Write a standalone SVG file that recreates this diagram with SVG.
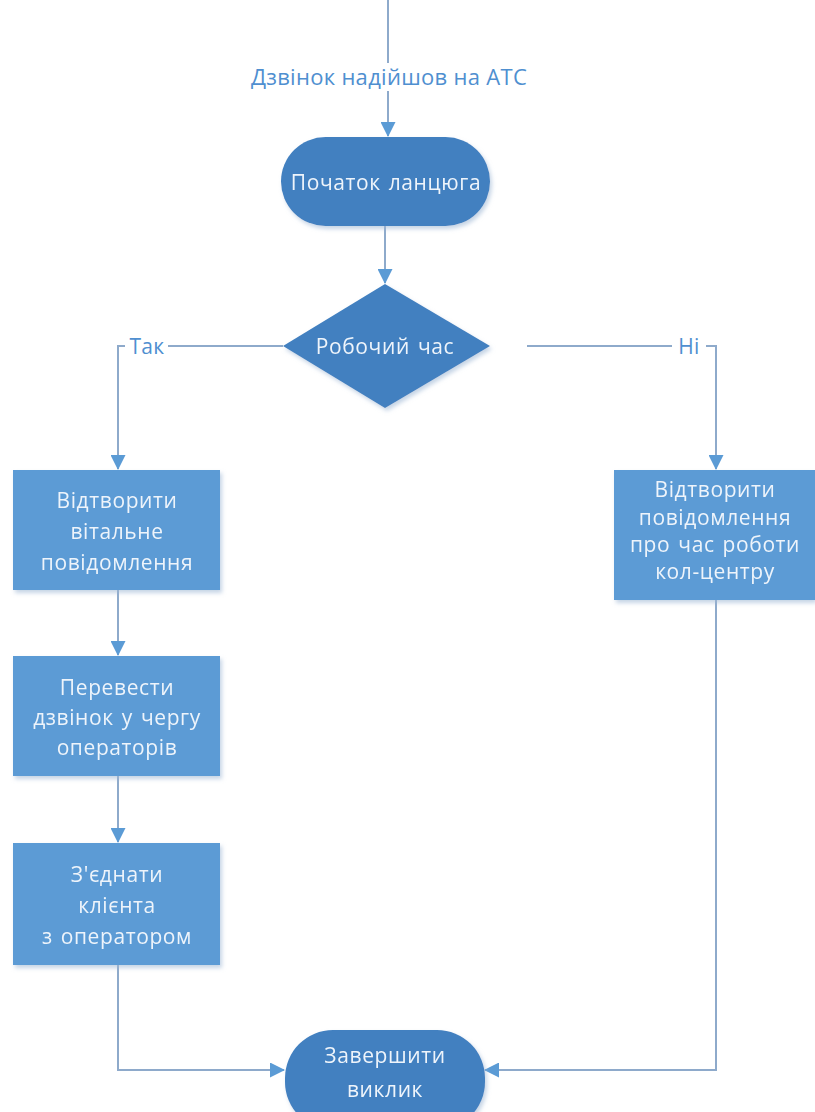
<svg xmlns="http://www.w3.org/2000/svg" width="815" height="1112" viewBox="0 0 815 1112">
  <style>
    .line { fill: none; stroke: #8eaacb; stroke-width: 2; }
    .term { fill: #4280c0; }
    .dec { fill: #4280c0; }
    .proc { fill: #5b9bd5; }
    .ntext { font-family: "Open Sans", "Liberation Sans", sans-serif; font-size: 21px; fill: #eef4fb; text-anchor: middle; letter-spacing: 0.6px; word-spacing: 2px; }
    .ltext { font-family: "Open Sans", "Liberation Sans", sans-serif; font-size: 22px; fill: #4f8fd0; text-anchor: middle; letter-spacing: 0.3px; }
    .small { font-size: 21px; }
  </style>
  <defs>
    <marker id="arrow" markerWidth="15" markerHeight="15" refX="14" refY="7.5" orient="auto" markerUnits="userSpaceOnUse">
      <path d="M0,0 L15,7.5 L0,15 Z" fill="#5b9bd5"/>
    </marker>
    <filter id="shadow" x="-10%" y="-10%" width="125%" height="130%">
      <feDropShadow dx="2" dy="3" stdDeviation="2" flood-color="#9fb8d4" flood-opacity="0.6"/>
    </filter>
  </defs>
  <rect width="815" height="1112" fill="#ffffff"/>

  <!-- connectors and their labels -->
  <g id="connectors">
    <path class="line" d="M388,0 L388,136" marker-end="url(#arrow)"/>
    <path class="line" d="M385,226 L385,283" marker-end="url(#arrow)"/>
    <path class="line" d="M283,346 L168,346"/>
    <path class="line" d="M125,346 L118,346 L118,469" marker-end="url(#arrow)"/>
    <path class="line" d="M527,346 L672,346"/>
    <path class="line" d="M706,346 L716,346 L716,469" marker-end="url(#arrow)"/>
    <path class="line" d="M118,590 L118,655" marker-end="url(#arrow)"/>
    <path class="line" d="M118,776 L118,842" marker-end="url(#arrow)"/>
    <path class="line" d="M118,965 L118,1070 L284,1070" marker-end="url(#arrow)"/>
    <path class="line" d="M716,600 L716,1070 L485,1070" marker-end="url(#arrow)"/>
    <rect x="246" y="63" width="284" height="28" fill="#ffffff"/>
    <text class="ltext" x="389" y="85">Дзвінок надійшов на АТС</text>
    <text class="ltext small" x="147" y="354">Так</text>
    <text class="ltext small" x="689" y="354">Ні</text>
  </g>

  <g id="start" filter="url(#shadow)">
    <rect class="term" x="281" y="137" width="209" height="89" rx="44.5"/>
    <text class="ntext" x="386" y="190">Початок ланцюга</text>
  </g>

  <g id="decision" filter="url(#shadow)">
    <polygon class="dec" points="385,284 490,346 385,408 283,346"/>
    <text class="ntext" x="385" y="354">Робочий час</text>
  </g>

  <g id="greeting" filter="url(#shadow)">
    <rect class="proc" x="13" y="470" width="207" height="120"/>
    <text class="ntext" x="117" y="508">Відтворити</text>
    <text class="ntext" x="117" y="539">вітальне</text>
    <text class="ntext" x="117" y="570">повідомлення</text>
  </g>

  <g id="queue" filter="url(#shadow)">
    <rect class="proc" x="13" y="656" width="207" height="120"/>
    <text class="ntext" x="117" y="695">Перевести</text>
    <text class="ntext" x="117" y="725">дзвінок у чергу</text>
    <text class="ntext" x="117" y="755">операторів</text>
  </g>

  <g id="connect" filter="url(#shadow)">
    <rect class="proc" x="13" y="843" width="207" height="122"/>
    <text class="ntext" x="117" y="882">З'єднати</text>
    <text class="ntext" x="117" y="913">клієнта</text>
    <text class="ntext" x="117" y="944">з оператором</text>
  </g>

  <g id="hours" filter="url(#shadow)">
    <rect class="proc" x="614" y="470" width="201" height="130"/>
    <text class="ntext" x="715" y="497">Відтворити</text>
    <text class="ntext" x="715" y="525">повідомлення</text>
    <text class="ntext" x="715" y="552">про час роботи</text>
    <text class="ntext" x="715" y="579">кол-центру</text>
  </g>

  <g id="end" filter="url(#shadow)">
    <rect class="term" x="285" y="1030" width="200" height="100" rx="48"/>
    <text class="ntext" x="385" y="1063">Завершити</text>
    <text class="ntext" x="385" y="1097">виклик</text>
  </g>
</svg>
